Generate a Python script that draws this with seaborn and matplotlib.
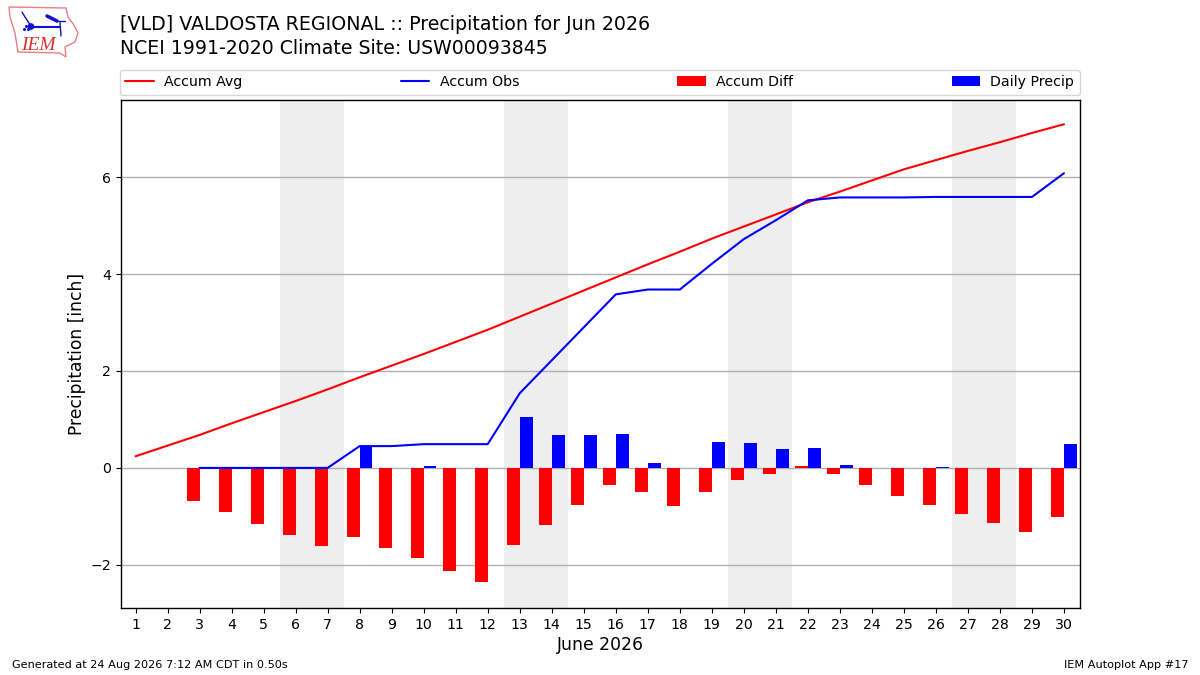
import numpy as np
import pandas as pd
import matplotlib
matplotlib.use("Agg")
import matplotlib.pyplot as plt
from matplotlib.patches import Polygon, Circle
import seaborn as sns

days = list(range(1, 31))
accum_avg = [0.24, 0.46, 0.68, 0.92, 1.15, 1.38, 1.62, 1.87, 2.11, 2.35, 2.60, 2.85, 3.12, 3.39, 3.66,
             3.93, 4.20, 4.46, 4.73, 4.98, 5.23, 5.48, 5.70, 5.93, 6.16, 6.35, 6.54, 6.72, 6.91, 7.09]
accum_obs = [np.nan, np.nan, 0.0, 0.0, 0.0, 0.0, 0.0, 0.45, 0.45, 0.49, 0.49, 0.49, 1.54, 2.22, 2.90,
             3.58, 3.68, 3.68, 4.21, 4.72, 5.11, 5.52, 5.58, 5.58, 5.58, 5.59, 5.59, 5.59, 5.59, 6.08]
accum_diff = [np.nan, np.nan, -0.68, -0.90, -1.15, -1.38, -1.62, -1.42, -1.66, -1.85, -2.12, -2.36, -1.58, -1.17, -0.76,
              -0.35, -0.49, -0.78, -0.49, -0.25, -0.12, 0.04, -0.12, -0.35, -0.58, -0.76, -0.95, -1.13, -1.32, -1.01]
daily_precip = [0, 0, 0, 0, 0, 0, 0, 0.45, 0, 0.04, 0, 0, 1.05, 0.68, 0.68,
                0.70, 0.10, 0, 0.53, 0.51, 0.39, 0.41, 0.06, 0, 0, 0.02, 0, 0, 0, 0.49]
weekend_starts = [6, 13, 20, 27]

title_lines = ["[VLD] VALDOSTA REGIONAL :: Precipitation for Jun 2026",
               "NCEI 1991-2020 Climate Site: USW00093845"]

sns.set_theme(style="white", rc={"font.family": "DejaVu Sans"})
df = pd.DataFrame({"day": days, "avg": accum_avg, "obs": accum_obs,
                   "diff": accum_diff, "precip": daily_precip})

W, H = 1200, 675
fig = plt.figure(figsize=(12, 6.75), dpi=100)
ax = fig.add_axes([120.5 / W, 1 - 608 / H, (1080 - 120.5) / W, (608 - 100) / H])

for s in weekend_starts:
    ax.axvspan(s - 0.5, s + 1.5, color="#EEEEEE", lw=0, zorder=0)

sns.lineplot(data=df, x="day", y="avg", color="red", lw=1.5, ax=ax, label="Accum Avg", zorder=3)
sns.lineplot(data=df, x="day", y="obs", color="blue", lw=1.5, ax=ax, label="Accum Obs", zorder=3)
ax.bar(df["day"], df["diff"], width=-0.4, align="edge", color="red", lw=0, label="Accum Diff", zorder=2)
ax.bar(df["day"], df["precip"], width=0.4, align="edge", color="blue", lw=0, label="Daily Precip", zorder=2)

ax.set_xlim(0.53, 30.5)
ax.set_ylim(-2.89, 7.59)
ax.set_xticks(days)
ax.set_yticks([-2, 0, 2, 4, 6])
ax.set_yticklabels(["\u22122", "0", "2", "4", "6"])
ax.yaxis.grid(True, color="#B0B0B0", lw=1)
ax.xaxis.grid(False)
ax.set_axisbelow(True)
ax.tick_params(axis="both", which="major", length=3.5, width=0.8, labelsize=10.2,
               color="black", labelcolor="black", bottom=True, left=True, pad=3.5)
for sp in ax.spines.values():
    sp.set_color("black")
    sp.set_linewidth(1.0)
ax.set_xlabel("June 2026", fontsize=12.4, color="black", labelpad=3)
ax.set_ylabel("Precipitation [inch]", fontsize=12.3, color="black", labelpad=3)

ax.legend(loc="lower left", bbox_to_anchor=(-0.001, 1.0098, 1.001, 0.05), mode="expand", ncol=4,
          borderaxespad=0, fontsize=10.2, frameon=True, labelcolor="black", handletextpad=0.75)

fig.text(120 / W, 1 - 25 / H, title_lines[0], fontsize=13.65, color="black", va="center", ha="left")
fig.text(120 / W, 1 - 48 / H, title_lines[1], fontsize=13.62, color="black", va="center", ha="left")
fig.text(12 / W, 1 - 665 / H, "Generated at 24 Aug 2026 7:12 AM CDT in 0.50s", fontsize=8.15,
         color="black", va="center", ha="left")
fig.text(1188 / W, 1 - 665 / H, "IEM Autoplot App #17", fontsize=8.15, color="black", va="center", ha="right")

# logo
logo = fig.add_axes([0, 1 - 60 / H, 80 / W, 60 / H])
logo.set_xlim(0, 80)
logo.set_ylim(60, 0)
logo.axis("off")
outline = [(9, 7), (66, 8), (68, 17), (74, 25), (78, 33), (75, 42), (65, 47), (66, 57),
           (60, 53), (18, 52), (15, 33), (10, 17)]
logo.add_patch(Polygon(outline, closed=True, fill=False, ec="#E88080", lw=1))
logo.plot([31, 60], [26.5, 26.5], color="#1010D0", lw=1.5)
logo.plot([22, 25, 31], [12, 17, 26], color="#1010D0", lw=1)
logo.plot([47, 57], [16, 21], color="#1010D0", lw=2.5)
logo.plot([57, 65], [21, 21], color="#1010D0", lw=1)
logo.plot([60, 61], [22, 36], color="#1010D0", lw=1)
logo.plot([24, 26, 28], [29, 26, 29], ls="none", marker="o", ms=1.2, color="#1010D0")
logo.add_patch(Circle((31, 26.5), 2.6, color="#1010D0"))
logo.text(38, 45, "IEM", fontsize=14, style="italic", family="Liberation Serif", color="#D83030",
          ha="center", va="center")

fig.savefig("out.png", dpi=100)
